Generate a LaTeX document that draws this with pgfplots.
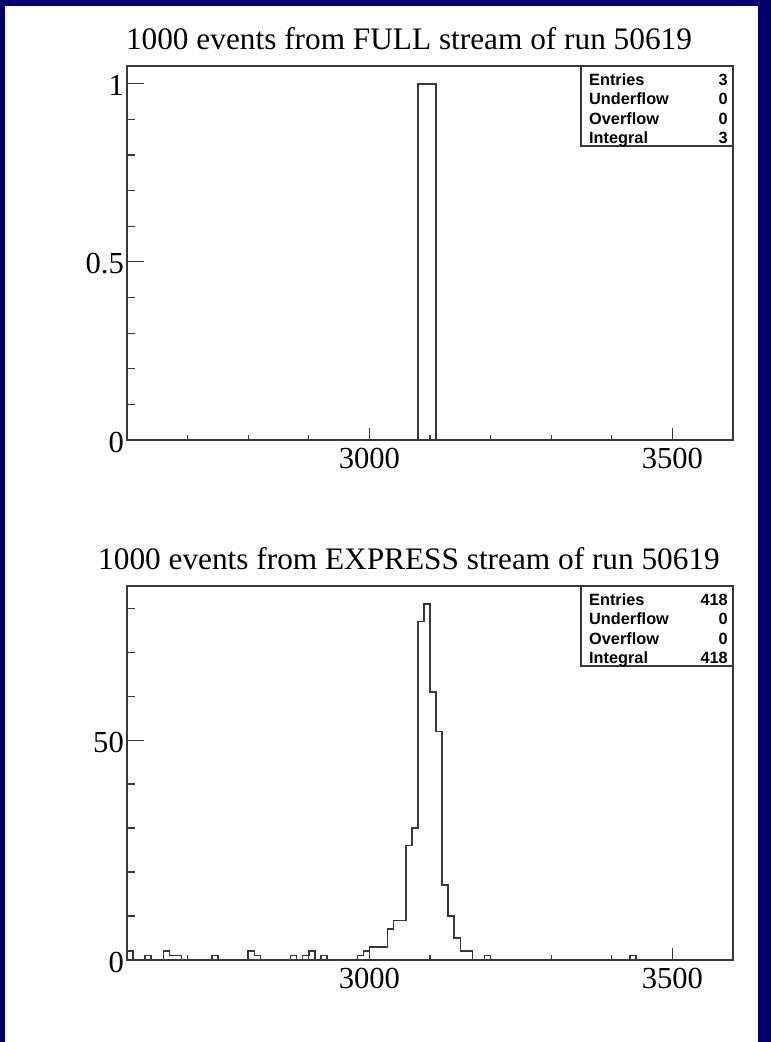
\documentclass[border=0pt]{standalone}
\usepackage{pgfplots}
\pgfplotsset{compat=1.18}
\usepackage{fontspec}
\setmainfont{Liberation Serif}
\newfontfamily\statfont{Liberation Sans}
\definecolor{navy}{RGB}{0,0,110}
\definecolor{lin}{gray}{0.22}

\pgfplotsset{
  rootaxis/.style={
    scale only axis, width=606bp, height=374bp,
    anchor=south west,
    xmin=2600, xmax=3600,
    axis line style={lin, line width=1.3bp},
    tick style={lin, line width=1.2bp},
    tick align=inside,
    xtick pos=left, ytick pos=left,
    tick label style={font=\fontsize{30.6bp}{31bp}\selectfont},
    /pgf/number format/assume math mode=true,
    xticklabel style={anchor=north, inner sep=0pt, yshift=-8bp},
    yticklabel style={anchor=east, inner sep=0pt, xshift=-3bp, yshift=-2bp},
  },
  xaxisonly/.style={
    rootaxis, ytick=\empty,
    xtick={3000,3500}, xticklabels={3000,3500},
    minor xtick={2700,2800,2900,3100,3200,3300,3400},
    major tick length=12bp, minor tick length=5bp,
  },
  hist/.style={const plot mark left, no marks, lin, line width=1.5bp},
}

\pgfplotstableread{
x y
3070 0
3080 1
3090 1
3100 1
3110 0
3600 0
}\fulltab

\pgfplotstableread{
x y
2600 2
2610 0
2620 0
2630 1
2640 0
2650 0
2660 2
2670 1
2680 1
2690 0
2700 0
2710 0
2720 0
2730 0
2740 1
2750 0
2760 0
2770 0
2780 0
2790 0
2800 2
2810 1
2820 0
2830 0
2840 0
2850 0
2860 0
2870 1
2880 0
2890 1
2900 2
2910 0
2920 1
2930 0
2940 0
2950 0
2960 0
2970 0
2980 1
2990 2
3000 3
3010 3
3020 3
3030 7
3040 9
3050 9
3060 26
3070 30
3080 77
3090 81
3100 61
3110 52
3120 17
3130 10
3140 5
3150 2
3160 2
3170 0
3180 0
3190 1
3200 0
3210 0
3220 0
3230 0
3240 0
3250 0
3260 0
3270 0
3280 0
3290 0
3300 0
3310 0
3320 0
3330 0
3340 0
3350 0
3360 0
3370 0
3380 0
3390 0
3400 0
3410 0
3420 0
3430 1
3440 0
3450 0
3460 0
3470 0
3480 0
3490 0
3500 0
3510 0
3520 0
3530 0
3540 0
3550 0
3560 0
3570 0
3580 0
3590 0
3600 0
}\expresstab

\begin{document}
\begin{tikzpicture}
% background
\fill[navy] (0bp,0bp) rectangle (771bp,1042bp);
\fill[white] (5bp,0bp) rectangle (758bp,1036bp);

% ---------- top panel ----------
\begin{axis}[xaxisonly, at={(127bp,602bp)}, ymin=0, ymax=1.05]
\end{axis}
\begin{axis}[rootaxis, at={(127bp,602bp)}, ymin=0, ymax=1.05,
  xtick=\empty,
  ytick={0,0.5,1}, yticklabels={0,0.5,1},
  minor ytick={0.1,0.2,0.3,0.4,0.6,0.7,0.8,0.9},
  major tick length=17bp, minor tick length=8bp]
\addplot[hist] table[x=x,y=y] {\fulltab};
\end{axis}
\node[anchor=base, font=\fontsize{31.3bp}{32bp}\selectfont] at (409bp,992bp)
  {1000 events from FULL stream of run 50619};
\draw[lin, line width=1.2bp] (581bp,976bp) -- (581bp,896bp) -- (733bp,896bp);
\begin{scope}[every node/.style={font=\statfont\bfseries\fontsize{16.3bp}{17bp}\selectfont, inner sep=0pt}]
\node[anchor=base west] at (589bp,956.5bp) {Entries};
\node[anchor=base west] at (589bp,937bp) {Underflow};
\node[anchor=base west] at (589bp,917.5bp) {Overflow};
\node[anchor=base west] at (589bp,898bp) {Integral};
\node[anchor=base east] at (728bp,956.5bp) {3};
\node[anchor=base east] at (728bp,937bp) {0};
\node[anchor=base east] at (728bp,917.5bp) {0};
\node[anchor=base east] at (728bp,898bp) {3};
\end{scope}

% ---------- bottom panel ----------
\begin{axis}[xaxisonly, at={(127bp,82bp)}, ymin=0, ymax=85.05]
\end{axis}
\begin{axis}[rootaxis, at={(127bp,82bp)}, ymin=0, ymax=85.05,
  xtick=\empty,
  ytick={0,50}, yticklabels={0,50},
  minor ytick={10,20,30,40,60,70,80},
  major tick length=17bp, minor tick length=8bp]
\addplot[hist] table[x=x,y=y] {\expresstab};
\end{axis}
\node[anchor=base, font=\fontsize{31.3bp}{32bp}\selectfont] at (409bp,472bp)
  {1000 events from EXPRESS stream of run 50619};
\draw[lin, line width=1.2bp] (581bp,456bp) -- (581bp,376bp) -- (733bp,376bp);
\begin{scope}[every node/.style={font=\statfont\bfseries\fontsize{16.3bp}{17bp}\selectfont, inner sep=0pt}]
\node[anchor=base west] at (589bp,436.5bp) {Entries};
\node[anchor=base west] at (589bp,417bp) {Underflow};
\node[anchor=base west] at (589bp,397.5bp) {Overflow};
\node[anchor=base west] at (589bp,378bp) {Integral};
\node[anchor=base east] at (728bp,436.5bp) {418};
\node[anchor=base east] at (728bp,417bp) {0};
\node[anchor=base east] at (728bp,397.5bp) {0};
\node[anchor=base east] at (728bp,378bp) {418};
\end{scope}
\end{tikzpicture}
\end{document}
